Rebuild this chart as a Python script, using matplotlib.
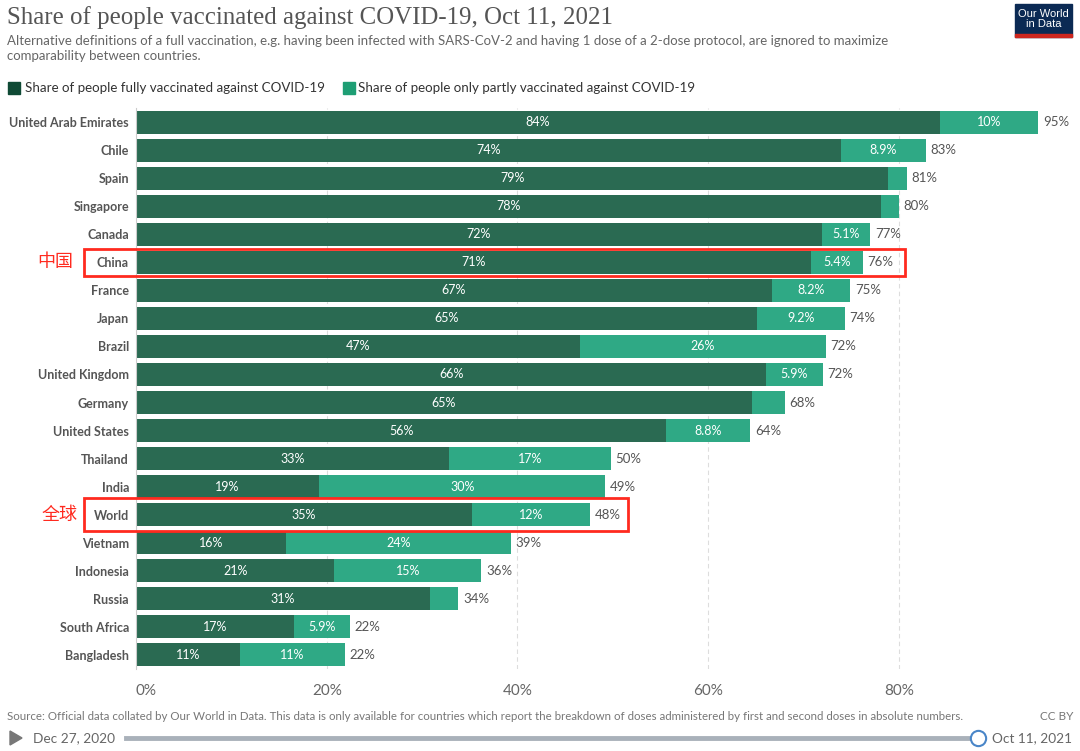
import matplotlib.pyplot as plt
import matplotlib.patches as mpatches
from matplotlib.transforms import blended_transform_factory

# Data (percent of population, Oct 11, 2021)
countries = ["United Arab Emirates", "Chile", "Spain", "Singapore", "Canada", "China",
             "France", "Japan", "Brazil", "United Kingdom", "Germany", "United States",
             "Thailand", "India", "World", "Vietnam", "Indonesia", "Russia",
             "South Africa", "Bangladesh"]
fully = [84.3, 73.9, 78.9, 78.1, 71.9, 70.8, 66.7, 65.1, 46.6, 66.1, 64.6, 55.6,
         32.8, 19.2, 35.2, 15.7, 20.8, 30.8, 16.55, 10.9]
partly = [10.3, 8.9, 1.9, 1.9, 5.1, 5.4, 8.2, 9.2, 25.7, 5.9, 3.4, 8.8,
          17.0, 30.0, 12.4, 23.6, 15.4, 3.0, 5.9, 11.0]
xticks = [0, 20, 40, 60, 80]

DARK = "#2a6a52"
LIGHT = "#2fa985"
FONT = "Lato"


def fmt(v):
    return f"{v:.1f}%" if v < 10 else f"{v:.0f}%"


fig = plt.figure(figsize=(10.8, 7.51), dpi=100)
ax = fig.add_axes([136 / 1080, 1 - 669 / 751, 906 / 1080, 561 / 751])

rows = list(range(len(countries)))
ax.barh(rows, fully, height=0.82, color=DARK, zorder=2)
ax.barh(rows, partly, left=fully, height=0.82, color=LIGHT, zorder=2)

for i, (f, p) in enumerate(zip(fully, partly)):
    if f > 4:
        ax.text(f / 2, i, fmt(f), ha="center", va="center", color="white",
                fontsize=9, family=FONT, zorder=3)
    if p > 4:
        ax.text(f + p / 2, i, fmt(p), ha="center", va="center", color="white",
                fontsize=9, family=FONT, zorder=3)
    ax.text(f + p + 0.5, i, fmt(f + p), ha="left", va="center", color="#555555",
            fontsize=9.5, family=FONT, clip_on=False)

ax.set_xlim(0, 95)
ax.set_ylim(len(countries) - 0.5, -0.5)
ax.set_yticks(rows)
ax.set_yticklabels(countries, family=FONT, fontweight="bold", fontsize=9, color="#555555")
ax.set_xticks(xticks)
ax.set_xticklabels([f"{t}%" for t in xticks], family=FONT, fontsize=11, color="#666666")
ax.get_xticklabels()[0].set_horizontalalignment("left")
ax.tick_params(axis="both", length=0)
ax.tick_params(axis="x", pad=11)
ax.tick_params(axis="y", pad=5)
for s in ["top", "right", "bottom"]:
    ax.spines[s].set_visible(False)
ax.spines["left"].set_color("#cccccc")
ax.grid(axis="x", color="#dddddd", linestyle=(0, (4, 3)), linewidth=0.8, zorder=0)
ax.set_axisbelow(True)

# Red highlight boxes and Chinese labels
bt = blended_transform_factory(fig.transFigure, ax.transData)
i_china = countries.index("China")
i_world = countries.index("World")
fig.patches.append(mpatches.Rectangle((84 / 1080, i_china - 0.48), 821 / 1080, 0.96,
                                      transform=bt, fill=False, edgecolor="#ff2a1f",
                                      linewidth=2, zorder=5))
fig.patches.append(mpatches.Rectangle((84 / 1080, i_world - 0.59), 544 / 1080, 1.18,
                                      transform=bt, fill=False, edgecolor="#ff2a1f",
                                      linewidth=2, zorder=5))
fig.text(55 / 1080, i_china, "中国", transform=bt, ha="center", va="center",
         color="#ff2a1f", fontsize=13, family=["Noto Sans CJK SC", "DejaVu Sans"])
fig.text(60 / 1080, i_world, "全球", transform=bt, ha="center", va="center",
         color="#ff2a1f", fontsize=13, family=["Noto Sans CJK SC", "DejaVu Sans"])

# Title and subtitle
fig.text(7 / 1080, 1 - 18 / 751, "Share of people vaccinated against COVID-19, Oct 11, 2021",
         ha="left", va="center", fontsize=17.9, family="Liberation Serif", color="#555555")
fig.text(7 / 1080, 1 - 48.5 / 751,
         "Alternative definitions of a full vaccination, e.g. having been infected with SARS-CoV-2 and having 1 dose of a 2-dose protocol, are ignored to maximize\ncomparability between countries.",
         ha="left", va="center", fontsize=9.5, family=FONT, color="#666666", linespacing=1.3)

# Legend
fig.patches.append(mpatches.Rectangle((8 / 1080, 1 - 94 / 751), 12 / 1080, 12 / 751,
                                      transform=fig.transFigure, color="#0f4a35"))
fig.text(25 / 1080, 1 - 88 / 751, "Share of people fully vaccinated against COVID-19",
         ha="left", va="center", fontsize=9.6, family=FONT, color="#333333")
fig.patches.append(mpatches.Rectangle((343 / 1080, 1 - 94 / 751), 12 / 1080, 12 / 751,
                                      transform=fig.transFigure, color="#1e9e74"))
fig.text(358 / 1080, 1 - 88 / 751, "Share of people only partly vaccinated against COVID-19",
         ha="left", va="center", fontsize=9.6, family=FONT, color="#333333")

# Logo
fig.patches.append(mpatches.Rectangle((1015 / 1080, 1 - 37 / 751), 57 / 1080, 33 / 751,
                                      transform=fig.transFigure, color="#0b2a54"))
fig.patches.append(mpatches.Rectangle((1015 / 1080, 1 - 37 / 751), 57 / 1080, 3 / 751,
                                      transform=fig.transFigure, color="#ce261e"))
fig.text(1043.5 / 1080, 1 - 19 / 751, "Our World\nin Data", ha="center", va="center",
         fontsize=8, family="Liberation Sans", color="white", linespacing=1.0)

# Source and footer
fig.text(7 / 1080, 1 - 716 / 751,
         "Source: Official data collated by Our World in Data. This data is only available for countries which report the breakdown of doses administered by first and second doses in absolute numbers.",
         ha="left", va="center", fontsize=8.3, family=FONT, color="#777777")
fig.text(1073 / 1080, 1 - 716 / 751, "CC BY", ha="right", va="center", fontsize=8.5,
         family=FONT, color="#777777")

# Timeline
fig.patches.append(mpatches.Polygon([[10 / 1080, 1 - 731 / 751], [10 / 1080, 1 - 745 / 751],
                                     [22 / 1080, 1 - 738 / 751]], closed=True,
                                    transform=fig.transFigure, color="#777777"))
fig.text(33 / 1080, 1 - 738 / 751, "Dec 27, 2020", ha="left", va="center", fontsize=9.8,
         family=FONT, color="#666666")
fig.lines.append(plt.Line2D([126 / 1080, 972 / 1080], [1 - 738 / 751, 1 - 738 / 751],
                            transform=fig.transFigure, color="#a9b1ba", linewidth=3.5))
fig.lines.append(plt.Line2D([978 / 1080], [1 - 738 / 751], transform=fig.transFigure,
                            marker="o", markersize=11, markerfacecolor="white",
                            markeredgecolor="#4a86c8", markeredgewidth=1.5, linestyle="none"))
fig.text(992 / 1080, 1 - 738 / 751, "Oct 11, 2021", ha="left", va="center", fontsize=9.8,
         family=FONT, color="#666666")

fig.savefig("out.png", dpi=100)
